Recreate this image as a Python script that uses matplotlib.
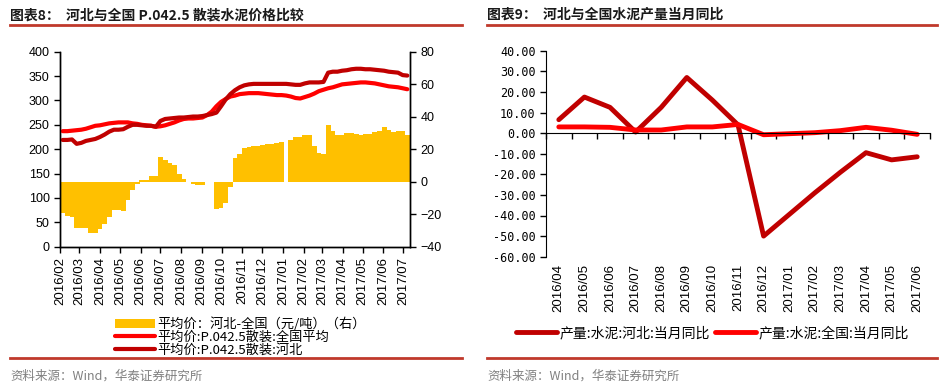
import numpy as np
import pandas as pd
import matplotlib
matplotlib.use("Agg")
import matplotlib.pyplot as plt
import matplotlib.dates as mdates
from matplotlib.lines import Line2D

plt.rcParams['font.family'] = ['Liberation Sans', 'Noto Sans CJK SC', 'DejaVu Sans']
CJK = ['Noto Sans CJK SC', 'DejaVu Sans']

# ---- chart 8: weekly prices, Feb 2016 - Jul 2017 ----
weeks = pd.date_range('2016-02-05', periods=75, freq='7D')

# Hebei minus national (right axis, yuan/ton), NaN = no data
diff = [-19, -21, -22, -28.5, -28.5, -28.5, -31.5, -31.5, -29, -26,
        -22, -17.5, -17.5, -18, -11, -5, -1.5, 1.2, 1.2, 3.5,
        3.5, 15, 13.5, 11.5, 10, 4.5, 1.5, np.nan, -1.5, -2,
        -2, np.nan, np.nan, -16.5, -16, -13, -3.5, 14.5, 17, 20.5,
        21.5, 22, 22, 22.5, 23, 23.5, 24, 24.5, np.nan, 25.5,
        27.5, 27.5, 28.5, 29, 22, 17.5, 17, 34.8, 31, 29,
        28.5, 30, 30, 29.5, 29, 29.5, 29.5, 30.5, 31, 33.5,
        32, 30.5, 31.5, 31, 28.5]

national = [237, 237, 238, 239, 240, 242, 245, 248, 249, 251,
            253, 254, 255, 255, 255, 253, 252, 250, 249, 248,
            246, 247, 249, 252, 255, 259, 262, 263, 263, 264,
            265, 270, 277, 288, 297, 303, 308, 310, 313, 314,
            315, 315, 315, 314, 313, 312, 311, 311, 310, 308,
            305, 304, 307, 310, 314, 319, 322, 325, 327, 330,
            333, 334, 335, 336, 337, 337, 336, 335, 333, 331,
            329, 328, 327, 325, 323]

hebei = [219, 219, 220, 211, 213, 217, 219, 221, 225, 230,
         236, 240, 240, 241, 246, 250, 250, 249, 248, 248,
         246, 258, 262, 263, 264, 265, 265, 266, 267, 267,
         268, 270, 272, 275, 288, 302, 313, 321, 327, 331,
         333, 334, 334, 334, 334, 334, 334, 334, 334, 333,
         332, 332, 335, 337, 337, 337, 338, 357, 359, 359,
         361, 362, 364, 365, 365, 364, 364, 363, 362, 361,
         359, 358, 357, 352, 351]

# ---- chart 9: monthly cement output yoy ----
months9 = ['2016/04', '2016/05', '2016/06', '2016/07', '2016/08', '2016/09', '2016/10',
           '2016/11', '2016/12', '2017/01', '2017/02', '2017/03', '2017/04', '2017/05', '2017/06']
yoy_hebei = [6.5, 17.5, 12.5, 0.5, 12.5, 27, 16, 4, -50, -39.5, -29, -19, -9.5, -13, -11.5]
yoy_nation = [3, 3, 2.8, 1.5, 1.5, 3, 3, 4.2, -0.8, -0.3, 0.2, 1.2, 2.8, 1.4, -0.6]

YELLOW = '#FFC000'
RED = '#FF0000'
DARK = '#C00000'
RULE = '#C0392B'

fig = plt.figure(figsize=(9.4, 3.83), dpi=100)

# headers and footers
fig.text(10/940, 1-15/383, '图表8：  河北与全国 P.042.5 散装水泥价格比较', family=CJK,
         fontsize=10, fontweight='bold', va='center', color='#1a1a1a')
fig.text(487/940, 1-15/383, '图表9：  河北与全国水泥产量当月同比', family=CJK,
         fontsize=10, fontweight='bold', va='center', color='#1a1a1a')
for x0, x1 in [(10, 462), (487, 937)]:
    for yy in (25, 358):
        fig.add_artist(Line2D([x0/940, x1/940], [1-yy/383]*2, color=RULE, lw=2))
    fig.text(x0/940, 1-376/383, '资料来源：Wind，华泰证券研究所', family=CJK,
             fontsize=9, va='center', color='#808080')

# ---- left chart ----
ax = fig.add_axes([60/940, 1-246.7/383, 350/940, 195/383])
bars = ax.bar(weeks, diff, width=7.4, color=YELLOW, linewidth=0,
              label='平均价：河北-全国（元/吨）（右）')
ax.set_ylim(-40, 80)
ax.set_yticks(range(-40, 81, 20))
ax2 = ax.twinx()
ax.yaxis.tick_right()
ax.yaxis.set_label_position('right')
ax2.yaxis.tick_left()
ax2.yaxis.set_label_position('left')
l1, = ax2.plot(weeks, national, color=RED, lw=3, solid_capstyle='round',
               label='平均价:P.042.5散装:全国平均')
l2, = ax2.plot(weeks, hebei, color=DARK, lw=3, solid_capstyle='round',
               label='平均价:P.042.5散装:河北')
ax2.set_ylim(0, 400)
ax2.set_yticks(range(0, 401, 50))
ax.set_xlim(pd.Timestamp('2016-02-01'), pd.Timestamp('2017-07-11'))
ax.xaxis.set_major_locator(mdates.MonthLocator())
ax.xaxis.set_major_formatter(mdates.DateFormatter('%Y/%m'))
for a in (ax, ax2):
    a.spines['top'].set_visible(False)
    for s in ('left', 'right', 'bottom'):
        a.spines[s].set_linewidth(1)
    a.tick_params(axis='y', labelsize=9, length=4, width=1)
ax.tick_params(axis='x', labelsize=9.5, rotation=90, length=4, width=1)
ax.legend([bars, l1, l2], [bars.get_label(), l1.get_label(), l2.get_label()],
          loc='upper left', bbox_to_anchor=(110/940, 1-312/383),
          bbox_transform=fig.transFigure, frameon=False, prop={'family': CJK, 'size': 9.5},
          handlelength=3.0, handletextpad=0.2, labelspacing=0.0, borderaxespad=0)

# ---- right chart ----
bx = fig.add_axes([546/940, 1-256.7/383, 384/940, 206/383])
xs = np.arange(len(months9))
bx.plot(xs, yoy_hebei, color=DARK, lw=3.5, solid_capstyle='round', label='产量:水泥:河北:当月同比')
bx.plot(xs, yoy_nation, color=RED, lw=3.5, solid_capstyle='round', label='产量:水泥:全国:当月同比')
bx.set_xlim(-0.5, len(months9) - 0.5)
bx.set_ylim(-60, 40)
bx.set_yticks(range(-60, 41, 10))
bx.set_yticklabels([f'{v:.2f}' for v in range(-60, 41, 10)], family='DejaVu Sans Mono', fontsize=8.5)
bx.spines['top'].set_visible(False)
bx.spines['right'].set_visible(False)
bx.spines['bottom'].set_position(('data', 0))
bx.set_xticks(np.arange(-0.5, len(months9), 1))
bx.tick_params(axis='x', labelbottom=False, length=4, width=1)
bx.tick_params(axis='y', length=4, width=1)
sec = bx.secondary_xaxis(0)
sec.set_xticks(xs, months9, rotation=90, fontsize=9.5)
sec.tick_params(length=0, pad=5)
sec.spines['bottom'].set_visible(False)
bx.legend(loc='center left', bbox_to_anchor=(510/940, 1-333/383), bbox_transform=fig.transFigure,
          ncol=2, frameon=False, prop={'family': CJK, 'size': 10}, handlelength=3.0,
          handletextpad=0.2, columnspacing=0.3, borderaxespad=0)

fig.savefig('out.png', dpi=100)
